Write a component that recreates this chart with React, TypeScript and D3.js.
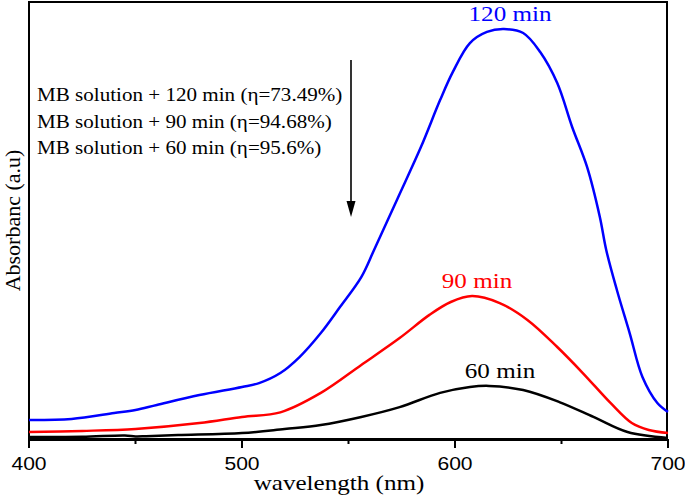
import * as d3 from 'd3';
import { useEffect, useRef } from 'react';

// wavelength (nm) and absorbance (a.u.)
const wl120 = [400, 420, 440, 450, 460, 480, 500, 508, 518, 527, 537, 546, 556, 562, 573, 584, 593, 599, 607, 615, 623, 632, 640, 648, 655, 662, 668, 671, 676, 682, 688, 695, 700];
const abs120 = [0.087, 0.092, 0.119, 0.133, 0.156, 0.201, 0.238, 0.256, 0.302, 0.375, 0.485, 0.604, 0.741, 0.865, 1.1, 1.336, 1.551, 1.68, 1.812, 1.863, 1.876, 1.858, 1.771, 1.629, 1.428, 1.245, 1.016, 0.865, 0.682, 0.485, 0.284, 0.165, 0.124];

const wl90 = [400, 425, 450, 480, 500, 518, 537, 556, 574, 588, 598, 608, 621, 634, 648, 660, 673, 683, 691, 700];
const abs90 = [0.032, 0.037, 0.046, 0.073, 0.101, 0.122, 0.211, 0.339, 0.462, 0.568, 0.627, 0.654, 0.622, 0.545, 0.421, 0.302, 0.165, 0.073, 0.041, 0.027];

const wl60 = [400, 425, 445, 450, 455, 470, 500, 520, 537, 556, 574, 593, 607, 616, 632, 649, 665, 681, 700];
const abs60 = [0.009, 0.01, 0.016, 0.012, 0.013, 0.018, 0.027, 0.046, 0.064, 0.101, 0.146, 0.211, 0.238, 0.243, 0.224, 0.169, 0.101, 0.032, 0.005];

const seriesNames = ['120 min', '90 min', '60 min'];
const seriesColors = ['#0000ff', '#ff0000', '#000000'];
const legendLines = [
    'MB solution + 120 min (η=73.49%)',
    'MB solution + 90 min (η=94.68%)',
    'MB solution + 60 min (η=95.6%)'
];
const majorTicks = [400, 500, 600, 700];
const minorTicks = [450, 550, 650];

const W = 685, H = 497;
const SX = 1.14; // the source picture is stretched sideways

function App() {
    const ref = useRef<SVGSVGElement>(null);

    useEffect(() => {
        const svg = d3.select(ref.current);
        svg.selectAll('*').remove();

        const left = 29, right = 667, top = 2, bottom = 439;

        const x = d3.scaleLinear().domain([400, 700]).range([left, right + 1]);
        const y = d3.scaleLinear().domain([0, 2]).range([bottom, bottom - 437]);

        const serif = "'Liberation Serif', 'Times New Roman', serif";
        const sans = "'Liberation Sans', Arial, sans-serif";

        const txt = (g: any, s: string, tx: number, ty: number, size: number, anchor: string, fill: string, family: string) => {
            g.append('text')
                .attr('transform', 'translate(' + tx + ',' + ty + ') scale(' + SX + ',1)')
                .attr('text-anchor', anchor)
                .attr('font-family', family)
                .attr('font-size', size)
                .attr('fill', fill)
                .text(s);
        };

        // frame
        svg.append('rect')
            .attr('x', left).attr('y', top)
            .attr('width', right - left).attr('height', bottom - top)
            .attr('fill', 'none').attr('stroke', '#000').attr('stroke-width', 2);

        // curves
        const sets = [[wl120, abs120], [wl90, abs90], [wl60, abs60]];
        const line = d3.line<[number, number]>()
            .x(d => x(d[0]))
            .y(d => y(d[1]))
            .curve(d3.curveCatmullRom.alpha(0.5));

        sets.forEach((s, i) => {
            const pts = s[0].map((w, j) => [w, s[1][j]] as [number, number]);
            svg.append('path')
                .attr('d', line(pts))
                .attr('fill', 'none')
                .attr('stroke', seriesColors[i])
                .attr('stroke-width', 2.5);
        });

        // bottom axis
        const axis = svg.append('g');
        axis.append('line')
            .attr('x1', left).attr('x2', right)
            .attr('y1', bottom + 1).attr('y2', bottom + 1)
            .attr('stroke', '#000').attr('stroke-width', 2);
        axis.selectAll('.maj').data(majorTicks).enter().append('line')
            .attr('x1', d => x(d)).attr('x2', d => x(d))
            .attr('y1', bottom).attr('y2', bottom + 9)
            .attr('stroke', '#000').attr('stroke-width', 2);
        axis.selectAll('.min').data(minorTicks).enter().append('line')
            .attr('x1', d => x(d)).attr('x2', d => x(d))
            .attr('y1', bottom).attr('y2', bottom + 5)
            .attr('stroke', '#000').attr('stroke-width', 2);
        majorTicks.forEach(t => txt(axis, String(t), x(t), 470, 18.5, 'middle', '#000', sans));

        txt(svg, 'wavelength (nm)', 339, 490, 22, 'middle', '#000', serif);

        svg.append('text')
            .attr('transform', 'translate(20,' + (top + bottom) / 2 + ') rotate(-90)')
            .attr('text-anchor', 'middle')
            .attr('font-family', serif)
            .attr('font-size', 22)
            .text('Absorbanc (a.u)');

        // series labels
        const labelPos = [[510, 21], [477, 288], [500, 378]];
        seriesNames.forEach((n, i) => txt(svg, n, labelPos[i][0], labelPos[i][1], 22, 'middle', seriesColors[i], serif));

        // legend text
        legendLines.forEach((l, i) => txt(svg, l, 37, 101 + i * 26.5, 18.5, 'start', '#000', serif));

        // arrow
        svg.append('line')
            .attr('x1', 351).attr('x2', 351)
            .attr('y1', 60).attr('y2', 205)
            .attr('stroke', '#000').attr('stroke-width', 1.6);
        svg.append('path')
            .attr('d', 'M346.5,201 L355.5,201 L351,217 Z')
            .attr('fill', '#000');
    }, []);

    return (
        <svg ref={ref} width={W} height={H} style={{ position: 'absolute', left: 0, top: 0, background: '#fff' }} />
    );
}

export default App;
